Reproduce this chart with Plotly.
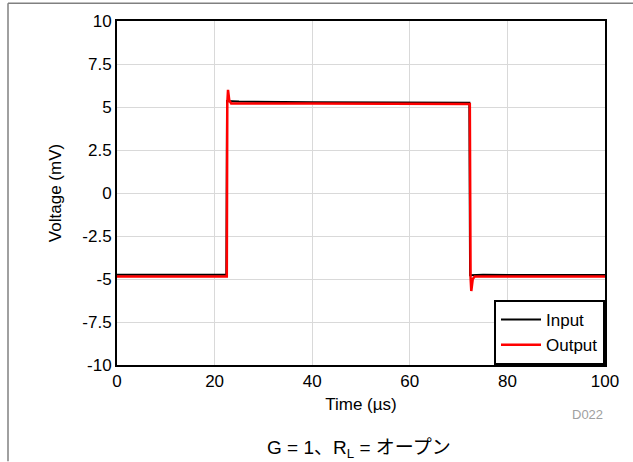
import plotly.graph_objects as go

# Data
t_in = [0, 22.4, 22.55, 25, 40, 60, 72.2, 72.35, 75, 100]
v_in = [-4.75, -4.75, 5.35, 5.32, 5.28, 5.27, 5.25, -4.78, -4.76, -4.77]

t_out = [0, 22.5, 22.6, 22.75, 23.0, 23.4, 40, 60, 72.3, 72.45, 72.6, 72.9, 73.3, 100]
v_out = [-4.85, -4.85, 5.2, 6.0, 5.4, 5.2, 5.2, 5.2, 5.18, -4.9, -5.7, -5.0, -4.85, -4.85]

x_ticks = [0, 20, 40, 60, 80, 100]
y_ticks = [10, 7.5, 5, 2.5, 0, -2.5, -5, -7.5, -10]
y_ticklabels = ["10", "7.5", "5", "2.5", "0", "-2.5", "-5", "-7.5", "-10"]

fig = go.Figure()
fig.add_trace(go.Scatter(x=t_in, y=v_in, mode="lines", name="Input",
                         line=dict(color="black", width=2)))
fig.add_trace(go.Scatter(x=t_out, y=v_out, mode="lines", name="Output",
                         line=dict(color="#ff0000", width=2.5)))

font = "Arial, Liberation Sans, sans-serif"
fig.update_layout(
    width=633, height=462,
    margin=dict(l=117, r=28, t=18, b=97),
    paper_bgcolor="white", plot_bgcolor="white",
    font=dict(family=font, size=17, color="black"),
    showlegend=True,
    legend=dict(x=1, y=0, xanchor="right", yanchor="bottom",
                bordercolor="black", borderwidth=2, bgcolor="white",
                font=dict(size=17), tracegroupgap=0,
                itemwidth=40),
    xaxis=dict(range=[0, 100], tickvals=x_ticks, showgrid=True,
               gridcolor="#d9d9d9", gridwidth=1, zeroline=False,
               showline=True, linecolor="black", linewidth=2, mirror=True,
               ticks="", tickfont=dict(size=17),
               title=dict(text="Time (µs)", font=dict(size=17), standoff=8)),
    yaxis=dict(range=[-10, 10], tickvals=y_ticks, ticktext=y_ticklabels,
               showgrid=True, gridcolor="#d9d9d9", gridwidth=1, zeroline=False,
               showline=True, linecolor="black", linewidth=2, mirror=True,
               ticks="", tickfont=dict(size=17),
               title=dict(text="Voltage (mV)", font=dict(size=17), standoff=16)),
    annotations=[
        dict(text="D022", xref="paper", yref="paper", x=1.0, y=-0.145,
             xanchor="right", yanchor="middle", showarrow=False,
             font=dict(size=13, color="#a0a0a0")),
        dict(text="G = 1、R<sub>L</sub> = オープン", xref="paper", yref="paper",
             x=0.495, y=-0.245, xanchor="center", yanchor="middle", showarrow=False,
             font=dict(size=19, family="Arial, Noto Sans CJK JP, sans-serif")),
    ],
    shapes=[
        dict(type="line", xref="paper", yref="paper",
             x0=-109/488, x1=-109/488, y0=-97/347, y1=1 + 18/347,
             line=dict(color="#808080", width=1.5)),
        dict(type="line", xref="paper", yref="paper",
             x0=-109/488, x1=1 + 28/488, y0=1 + 18/347, y1=1 + 18/347,
             line=dict(color="#808080", width=1.5)),
    ],
)

fig.write_html("out.html", config={"displayModeBar": False},
               post_script="document.body.style.margin='0';")
